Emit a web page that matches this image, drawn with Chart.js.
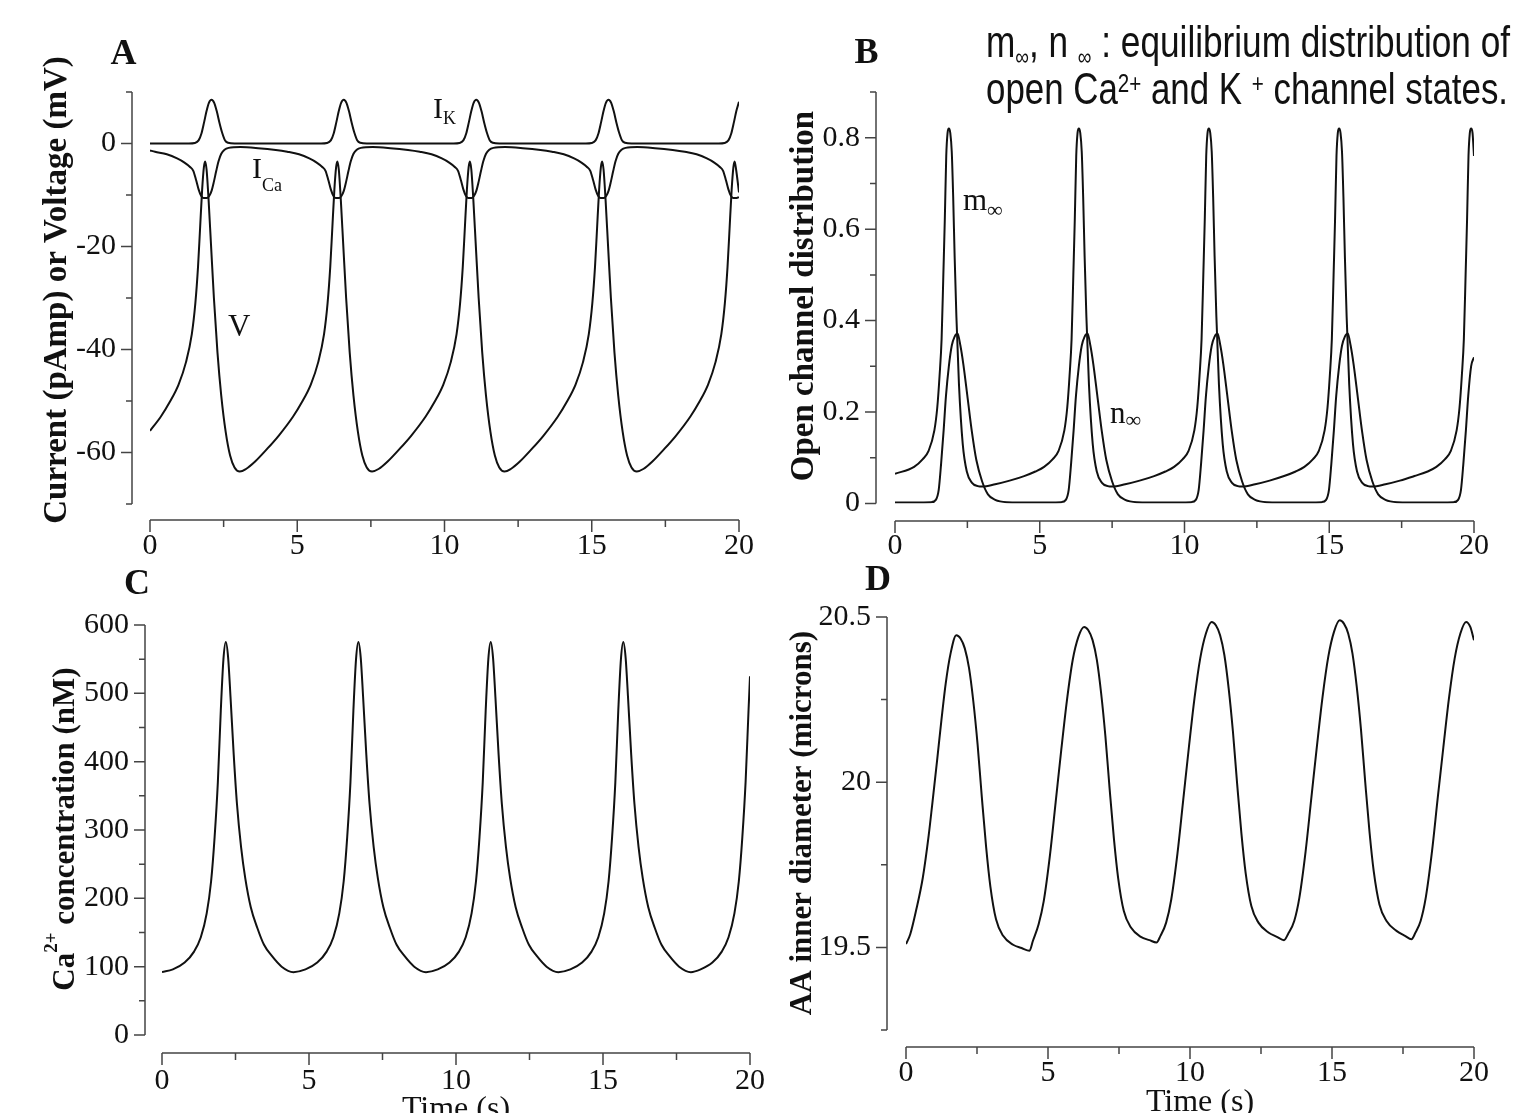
<!DOCTYPE html>
<html>
<head>
<meta charset="utf-8">
<script src="https://cdn.jsdelivr.net/npm/chart.js@4.4.1/dist/chart.umd.min.js"></script>
<style>
  html, body { margin: 0; padding: 0; background: #fff; overflow: hidden; }
  canvas { position: absolute; left: 0; top: 0; }
</style>
</head>
<body>
<canvas id="cvA" width="1514" height="1113"></canvas>
<canvas id="cvB" width="1514" height="1113"></canvas>
<canvas id="cvC" width="1514" height="1113"></canvas>
<canvas id="cvD" width="1514" height="1113"></canvas>
<script>
// ---- data: [time (s), value] ----
var voltage = [[0,-55.8],[0.37,-53.0],[0.67,-50.2],[0.97,-46.8],[1.22,-42.5],[1.42,-37.0],[1.54,-31.0],[1.63,-24.0],[1.70,-16.5],[1.77,-9.0],[1.83,-4.6],[1.87,-3.5],[1.92,-5.0],[1.99,-11.0],[2.07,-19.5],[2.17,-30.0],[2.29,-40.5],[2.42,-49.0],[2.57,-56.0],[2.72,-60.6],[2.87,-62.9],[3.05,-63.7],
  [3.26,-63.2],[3.56,-61.8],[3.96,-59.4],[4.36,-56.8],[4.86,-53.0],[5.16,-50.2],[5.46,-46.8],[5.71,-42.5],[5.91,-37.0],[6.03,-31.0],[6.12,-24.0],[6.19,-16.5],[6.26,-9.0],[6.32,-4.6],[6.36,-3.5],[6.41,-5.0],[6.48,-11.0],[6.56,-19.5],[6.66,-30.0],[6.78,-40.5],[6.91,-49.0],[7.06,-56.0],[7.21,-60.6],[7.36,-62.9],[7.54,-63.7],
  [7.76,-63.2],[8.06,-61.8],[8.46,-59.4],[8.86,-56.8],[9.36,-53.0],[9.66,-50.2],[9.96,-46.8],[10.21,-42.5],[10.41,-37.0],[10.53,-31.0],[10.62,-24.0],[10.69,-16.5],[10.76,-9.0],[10.82,-4.6],[10.86,-3.5],[10.91,-5.0],[10.98,-11.0],[11.06,-19.5],[11.16,-30.0],[11.28,-40.5],[11.41,-49.0],[11.56,-56.0],[11.71,-60.6],[11.86,-62.9],[12.04,-63.7],
  [12.25,-63.2],[12.55,-61.8],[12.95,-59.4],[13.35,-56.8],[13.85,-53.0],[14.15,-50.2],[14.45,-46.8],[14.70,-42.5],[14.90,-37.0],[15.02,-31.0],[15.11,-24.0],[15.18,-16.5],[15.25,-9.0],[15.31,-4.6],[15.35,-3.5],[15.40,-5.0],[15.47,-11.0],[15.55,-19.5],[15.65,-30.0],[15.77,-40.5],[15.90,-49.0],[16.05,-56.0],[16.20,-60.6],[16.35,-62.9],[16.53,-63.7],
  [16.75,-63.2],[17.05,-61.8],[17.45,-59.4],[17.85,-56.8],[18.35,-53.0],[18.65,-50.2],[18.95,-46.8],[19.20,-42.5],[19.40,-37.0],[19.52,-31.0],[19.61,-24.0],[19.68,-16.5],[19.75,-9.0],[19.81,-4.6],[19.85,-3.5],[19.90,-5.0],[20.0,-9.5]];

var iCa = [[0,-1.35],[0.17,-1.6],[0.57,-2.1],[0.92,-2.9],[1.17,-3.7],[1.35,-4.5],[1.47,-5.3],[1.57,-7.2],[1.65,-8.9],[1.74,-10.2],[1.82,-10.6],[1.93,-10.6],[2.01,-10.2],[2.09,-9.2],[2.17,-7.4],[2.25,-5.3],[2.33,-3.4],[2.42,-2.0],[2.53,-1.2],[2.67,-0.85],[3.07,-0.7],[3.67,-0.9],[4.27,-1.25],
  [4.66,-1.6],[5.06,-2.1],[5.41,-2.9],[5.66,-3.7],[5.84,-4.5],[5.96,-5.3],[6.06,-7.2],[6.14,-8.9],[6.23,-10.2],[6.31,-10.6],[6.42,-10.6],[6.50,-10.2],[6.58,-9.2],[6.66,-7.4],[6.74,-5.3],[6.82,-3.4],[6.91,-2.0],[7.02,-1.2],[7.16,-0.85],[7.56,-0.7],[8.16,-0.9],[8.76,-1.25],
  [9.16,-1.6],[9.56,-2.1],[9.91,-2.9],[10.16,-3.7],[10.34,-4.5],[10.46,-5.3],[10.56,-7.2],[10.64,-8.9],[10.73,-10.2],[10.81,-10.6],[10.92,-10.6],[11.00,-10.2],[11.08,-9.2],[11.16,-7.4],[11.24,-5.3],[11.32,-3.4],[11.41,-2.0],[11.52,-1.2],[11.66,-0.85],[12.06,-0.7],[12.66,-0.9],[13.26,-1.25],
  [13.65,-1.6],[14.05,-2.1],[14.40,-2.9],[14.65,-3.7],[14.83,-4.5],[14.95,-5.3],[15.05,-7.2],[15.13,-8.9],[15.22,-10.2],[15.30,-10.6],[15.41,-10.6],[15.49,-10.2],[15.57,-9.2],[15.65,-7.4],[15.73,-5.3],[15.81,-3.4],[15.90,-2.0],[16.01,-1.2],[16.15,-0.85],[16.55,-0.7],[17.15,-0.9],[17.75,-1.25],
  [18.16,-1.6],[18.56,-2.1],[18.91,-2.9],[19.16,-3.7],[19.34,-4.5],[19.46,-5.3],[19.56,-7.2],[19.64,-8.9],[19.73,-10.2],[19.81,-10.6],[19.92,-10.6],[20.0,-10.4]];

var iK = [[0,0],[1.32,0],[1.52,0.1],[1.65,0.6],[1.75,2.0],[1.84,4.2],[1.92,6.3],[2.00,7.9],[2.09,8.5],[2.18,7.9],[2.27,6.2],[2.36,4.0],[2.45,2.1],[2.55,0.6],[2.65,0.15],[2.87,0],
  [5.81,0],[6.01,0.1],[6.14,0.6],[6.24,2.0],[6.33,4.2],[6.41,6.3],[6.49,7.9],[6.58,8.5],[6.67,7.9],[6.76,6.2],[6.85,4.0],[6.94,2.1],[7.04,0.6],[7.14,0.15],[7.36,0],
  [10.31,0],[10.51,0.1],[10.64,0.6],[10.74,2.0],[10.83,4.2],[10.91,6.3],[10.99,7.9],[11.08,8.5],[11.17,7.9],[11.26,6.2],[11.35,4.0],[11.44,2.1],[11.54,0.6],[11.64,0.15],[11.86,0],
  [14.80,0],[15.00,0.1],[15.13,0.6],[15.23,2.0],[15.32,4.2],[15.40,6.3],[15.48,7.9],[15.57,8.5],[15.66,7.9],[15.75,6.2],[15.84,4.0],[15.93,2.1],[16.03,0.6],[16.13,0.15],[16.35,0],
  [19.31,0],[19.51,0.1],[19.64,0.6],[19.74,2.0],[19.83,4.2],[19.91,6.3],[20.0,8.1]];

var mInf = [[0,0.065],[0.66,0.080],[0.96,0.097],[1.16,0.115],[1.36,0.16],[1.46,0.21],[1.54,0.28],[1.61,0.36],[1.67,0.50],[1.72,0.62],[1.77,0.76],[1.815,0.81],[1.86,0.82],[1.91,0.81],[1.96,0.77],[2.01,0.67],[2.06,0.54],[2.12,0.41],[2.21,0.26],[2.34,0.13],[2.48,0.07],[2.66,0.045],[2.86,0.038],[3.01,0.037],[3.46,0.042],[3.96,0.050],[4.46,0.060],
  [4.85,0.070],[5.15,0.080],[5.45,0.097],[5.65,0.115],[5.85,0.16],[5.95,0.21],[6.03,0.28],[6.10,0.36],[6.16,0.50],[6.21,0.62],[6.26,0.76],[6.305,0.81],[6.35,0.82],[6.40,0.81],[6.45,0.77],[6.50,0.67],[6.55,0.54],[6.61,0.41],[6.70,0.26],[6.83,0.13],[6.97,0.07],[7.15,0.045],[7.35,0.038],[7.50,0.037],[7.95,0.042],[8.45,0.050],[8.95,0.060],
  [9.34,0.070],[9.64,0.080],[9.94,0.097],[10.14,0.115],[10.34,0.16],[10.44,0.21],[10.52,0.28],[10.59,0.36],[10.65,0.50],[10.70,0.62],[10.75,0.76],[10.795,0.81],[10.84,0.82],[10.89,0.81],[10.94,0.77],[10.99,0.67],[11.04,0.54],[11.10,0.41],[11.19,0.26],[11.32,0.13],[11.46,0.07],[11.64,0.045],[11.84,0.038],[11.99,0.037],[12.44,0.042],[12.94,0.050],[13.44,0.060],
  [13.84,0.070],[14.14,0.080],[14.44,0.097],[14.64,0.115],[14.84,0.16],[14.94,0.21],[15.02,0.28],[15.09,0.36],[15.15,0.50],[15.20,0.62],[15.25,0.76],[15.295,0.81],[15.34,0.82],[15.39,0.81],[15.44,0.77],[15.49,0.67],[15.54,0.54],[15.60,0.41],[15.69,0.26],[15.82,0.13],[15.96,0.07],[16.14,0.045],[16.34,0.038],[16.49,0.037],[16.94,0.042],[17.44,0.050],[17.94,0.060],
  [18.40,0.070],[18.70,0.080],[19.00,0.097],[19.20,0.115],[19.40,0.16],[19.50,0.21],[19.58,0.28],[19.65,0.36],[19.71,0.50],[19.76,0.62],[19.81,0.76],[19.855,0.81],[19.90,0.82],[19.95,0.81],[20.0,0.76]];

var nInf = [[0,0.002],[1.26,0.003],[1.41,0.008],[1.51,0.03],[1.59,0.085],[1.68,0.16],[1.76,0.235],[1.86,0.30],[1.96,0.345],[2.06,0.365],[2.16,0.372],[2.26,0.345],[2.36,0.305],[2.51,0.23],[2.66,0.155],[2.81,0.095],[3.01,0.048],[3.21,0.02],[3.46,0.008],[3.86,0.003],[4.86,0.002],
  [5.75,0.003],[5.90,0.008],[6.00,0.03],[6.08,0.085],[6.17,0.16],[6.25,0.235],[6.35,0.30],[6.45,0.345],[6.55,0.365],[6.65,0.372],[6.75,0.345],[6.85,0.305],[7.00,0.23],[7.15,0.155],[7.30,0.095],[7.50,0.048],[7.70,0.02],[7.95,0.008],[8.35,0.003],[9.35,0.002],
  [10.24,0.003],[10.39,0.008],[10.49,0.03],[10.57,0.085],[10.66,0.16],[10.74,0.235],[10.84,0.30],[10.94,0.345],[11.04,0.365],[11.14,0.372],[11.24,0.345],[11.34,0.305],[11.49,0.23],[11.64,0.155],[11.79,0.095],[11.99,0.048],[12.19,0.02],[12.44,0.008],[12.84,0.003],[13.84,0.002],
  [14.74,0.003],[14.89,0.008],[14.99,0.03],[15.07,0.085],[15.16,0.16],[15.24,0.235],[15.34,0.30],[15.44,0.345],[15.54,0.365],[15.64,0.372],[15.74,0.345],[15.84,0.305],[15.99,0.23],[16.14,0.155],[16.29,0.095],[16.49,0.048],[16.69,0.02],[16.94,0.008],[17.34,0.003],[18.34,0.002],
  [19.30,0.003],[19.45,0.008],[19.55,0.03],[19.63,0.085],[19.72,0.16],[19.80,0.235],[19.90,0.30],[20.0,0.32]];

var calcium = [[0,92],[0.37,96],[0.77,106],[1.09,122],[1.32,143],[1.52,178],[1.67,225],[1.79,290],[1.90,370],[2.00,475],[2.09,550],[2.17,575],[2.25,552],[2.33,495],[2.44,410],[2.55,338],[2.69,275],[2.83,230],[3.02,187],[3.24,157],[3.47,132],[3.73,116],[4.07,100],[4.47,92],
  [4.88,96],[5.28,106],[5.60,122],[5.83,143],[6.03,178],[6.18,225],[6.30,290],[6.41,370],[6.51,475],[6.60,550],[6.68,575],[6.76,552],[6.84,495],[6.95,410],[7.06,338],[7.20,275],[7.34,230],[7.53,187],[7.75,157],[7.98,132],[8.24,116],[8.58,100],[8.98,92],
  [9.38,96],[9.78,106],[10.10,122],[10.33,143],[10.53,178],[10.68,225],[10.80,290],[10.91,370],[11.01,475],[11.10,550],[11.18,575],[11.26,552],[11.34,495],[11.45,410],[11.56,338],[11.70,275],[11.84,230],[12.03,187],[12.25,157],[12.48,132],[12.74,116],[13.08,100],[13.48,92],
  [13.89,96],[14.29,106],[14.61,122],[14.84,143],[15.04,178],[15.19,225],[15.31,290],[15.42,370],[15.52,475],[15.61,550],[15.69,575],[15.77,552],[15.85,495],[15.96,410],[16.07,338],[16.21,275],[16.35,230],[16.54,187],[16.76,157],[16.99,132],[17.25,116],[17.59,100],[17.99,92],
  [18.32,96],[18.72,106],[19.04,122],[19.27,143],[19.47,178],[19.62,225],[19.74,290],[19.85,370],[19.95,475],[20.0,525]];

var diameter = [[0,19.51],[0.15,19.54],[0.35,19.61],[0.59,19.71],[0.80,19.84],[0.92,19.93],[1.10,20.07],[1.25,20.19],[1.40,20.30],[1.57,20.39],[1.77,20.445],
  [1.92,20.435],[2.07,20.405],[2.22,20.345],[2.37,20.245],[2.52,20.115],[2.67,19.955],[2.82,19.805],[2.97,19.685],[3.17,19.585],[3.42,19.535],[3.77,19.508],[4.07,19.498],[4.35,19.49],
  [4.47,19.52],[4.67,19.57],[4.85,19.64],[5.07,19.78],[5.27,19.94],[5.47,20.10],[5.67,20.25],[5.87,20.37],[6.07,20.44],[6.27,20.47],
  [6.42,20.46],[6.57,20.43],[6.72,20.37],[6.87,20.27],[7.02,20.14],[7.17,19.98],[7.32,19.83],[7.47,19.71],[7.67,19.61],[7.92,19.56],[8.27,19.532],[8.57,19.522],[8.82,19.515],
  [8.96,19.535],[9.16,19.575],[9.34,19.645],[9.56,19.785],[9.76,19.945],[9.96,20.105],[10.16,20.255],[10.36,20.375],[10.56,20.45],[10.76,20.485],
  [10.91,20.475],[11.06,20.445],[11.21,20.385],[11.36,20.285],[11.51,20.155],[11.66,19.995],[11.81,19.845],[11.96,19.725],[12.16,19.625],[12.41,19.575],[12.76,19.545],[13.06,19.532],[13.31,19.522],
  [13.45,19.54],[13.67,19.58],[13.85,19.65],[14.07,19.79],[14.27,19.95],[14.47,20.11],[14.67,20.26],[14.87,20.38],[15.07,20.455],[15.27,20.49],
  [15.42,20.48],[15.57,20.45],[15.72,20.39],[15.87,20.29],[16.02,20.16],[16.17,20.00],[16.32,19.85],[16.47,19.73],[16.67,19.63],[16.92,19.58],[17.27,19.55],[17.57,19.535],[17.80,19.525],
  [17.94,19.545],[18.12,19.58],[18.30,19.65],[18.52,19.79],[18.72,19.95],[18.92,20.105],[19.12,20.255],[19.32,20.375],[19.52,20.45],[19.72,20.485],[19.87,20.47],[20.0,20.43]];

var timeRange = [0, 20];
var timeStep = 2.5;
var yRangeA = [-70, 10], yStepA = 10;
var yRangeB = [0, 0.9], yStepB = 0.1;
var yRangeC = [0, 600], yStepC = 50;
var yRangeD = [19.25, 20.5], yStepD = 0.25;

var SERIF = "'Liberation Serif', 'DejaVu Serif', serif";
var SANS = "'Liberation Sans Narrow', 'Liberation Sans', Arial, sans-serif";
var INK = '#111';
var W = 1514, H = 1113;

// draws a run of text pieces: [text, size factor, baseline shift]
function richText(ctx, parts, x, y, o) {
  var weight = o.weight || 'normal', total = 0;
  var widths = parts.map(function (p) {
    ctx.font = weight + ' ' + Math.round(o.size * p[1]) + 'px ' + o.family;
    var w = ctx.measureText(p[0]).width;
    total += w;
    return w;
  });
  ctx.save();
  ctx.translate(x, y);
  if (o.rotate) ctx.rotate(o.rotate);
  if (o.fit) ctx.scale(o.fit / total, 1);
  ctx.fillStyle = INK;
  ctx.textAlign = 'left';
  ctx.textBaseline = o.baseline || 'alphabetic';
  var cx = o.align === 'center' ? -total / 2 : 0;
  parts.forEach(function (p, i) {
    ctx.font = weight + ' ' + Math.round(o.size * p[1]) + 'px ' + o.family;
    ctx.fillText(p[0], cx, p[2]);
    cx += widths[i];
  });
  ctx.restore();
}

function xMajor(v) { return Math.round(v / timeStep) % 2 === 0; }

function framePlugin(p) {
  return {
    id: 'frame' + p.name,
    afterDraw: function (chart) {
      var ctx = chart.ctx, xs = chart.scales.x, ys = chart.scales.y;
      ctx.save();
      ctx.strokeStyle = '#444';
      ctx.lineWidth = 1.5;
      ctx.beginPath();
      ctx.moveTo(p.yAxisX, ys.getPixelForValue(ys.min));
      ctx.lineTo(p.yAxisX, ys.getPixelForValue(ys.max));
      ys.ticks.forEach(function (t) {
        var y = ys.getPixelForValue(t.value);
        var len = p.yMajor(t.value) ? 11 : 6;
        ctx.moveTo(p.yAxisX - len, y);
        ctx.lineTo(p.yAxisX, y);
      });
      ctx.moveTo(xs.getPixelForValue(xs.min), p.xAxisY);
      ctx.lineTo(xs.getPixelForValue(xs.max), p.xAxisY);
      xs.ticks.forEach(function (t) {
        var x = xs.getPixelForValue(t.value);
        var len = xMajor(t.value) ? 12 : 7;
        ctx.moveTo(x, p.xAxisY);
        ctx.lineTo(x, p.xAxisY + len);
      });
      ctx.stroke();
      ctx.restore();

      richText(ctx, [[p.letter[0], 1, 0]], p.letter[1], p.letter[2], {size: 36, family: SERIF, weight: 'bold', align: 'center'});
      richText(ctx, p.title.parts, p.title.x, p.title.y, {size: p.title.size, family: SERIF, weight: 'bold', align: 'center', baseline: 'middle', rotate: -Math.PI / 2});
      if (p.xTitle) richText(ctx, [['Time (s)', 1, 0]], p.xTitle[0], p.xTitle[1], {size: 32, family: SERIF, align: 'center', baseline: 'middle'});
      (p.notes || []).forEach(function (n) {
        richText(ctx, n.parts, n.x, n.y, {size: n.size, family: n.family || SERIF, fit: n.fit});
      });
    }
  };
}

function makeChart(id, p, datasets) {
  var tickFont = {family: SERIF, size: 30};
  return new Chart(document.getElementById(id), {
    type: 'line',
    data: {
      datasets: datasets.map(function (d) {
        return {
          data: d.map(function (pt) { return {x: pt[0], y: pt[1]}; }),
          borderColor: INK, borderWidth: 2, pointRadius: 0,
          cubicInterpolationMode: 'monotone', fill: false
        };
      })
    },
    options: {
      responsive: false, animation: false, devicePixelRatio: 1,
      layout: {padding: {left: 0, right: W - p.R, top: p.T, bottom: 0}},
      plugins: {legend: {display: false}, tooltip: {enabled: false}},
      scales: {
        x: {
          type: 'linear', min: timeRange[0], max: timeRange[1],
          afterFit: function (s) { s.height = H - p.B; },
          grid: {display: false, drawTicks: false}, border: {display: false},
          ticks: {stepSize: timeStep, autoSkip: false, maxRotation: 0, padding: p.xPad, font: tickFont, color: INK,
            callback: function (v) { return xMajor(v) ? String(Math.round(v)) : ''; }}
        },
        y: {
          type: 'linear', min: p.yRange[0], max: p.yRange[1],
          afterFit: function (s) { s.width = p.L; },
          grid: {display: false, drawTicks: false}, border: {display: false},
          ticks: {stepSize: p.yStep, autoSkip: false, padding: p.yPad, font: tickFont, color: INK,
            callback: function (v) { return p.yMajor(v) ? String(Math.round(v * 100) / 100) : ''; }}
        }
      }
    },
    plugins: [framePlugin(p)]
  });
}

var panelA = {
  name: 'A', L: 150, R: 739, T: 92, B: 504, yAxisX: 132, xAxisY: 520,
  yRange: yRangeA, yStep: yStepA, yPad: 34, xPad: 24,
  yMajor: function (v) { return Math.round(v) % 20 === 0; },
  letter: ['A', 123.5, 64],
  title: {parts: [['Current (pAmp) or Voltage (mV)', 1, 0]], x: 57, y: 290, size: 32.5},
  notes: [
    {parts: [['I', 1, 0], ['K', 0.6, 6]], x: 433, y: 118, size: 30},
    {parts: [['I', 1, 0], ['Ca', 0.6, 13]], x: 252, y: 178, size: 30},
    {parts: [['V', 1, 0]], x: 228, y: 336, size: 31}
  ]
};

var panelB = {
  name: 'B', L: 895, R: 1483, T: 92, B: 503.5, yAxisX: 876, xAxisY: 521,
  yRange: yRangeB, yStep: yStepB, yPad: 35, xPad: 25,
  yMajor: function (v) { return Math.round(v * 10) % 2 === 0; },
  letter: ['B', 866.5, 62.5],
  title: {parts: [['Open channel distribution', 1, 0]], x: 804, y: 296, size: 32.5},
  notes: [
    {parts: [['m', 1, 0], ['\u221e', 0.72, 7]], x: 963, y: 210, size: 31},
    {parts: [['n', 1, 0], ['\u221e', 0.72, 4]], x: 1110, y: 423, size: 31},
    {parts: [['m', 1, 0], ['\u221e', 0.55, 8], [', n ', 1, 0], ['\u221e', 0.55, 8], [' : equilibrium distribution of', 1, 0]],
      x: 986, y: 57, size: 44, family: SANS, fit: 524},
    {parts: [['open Ca', 1, 0], ['2+', 0.6, -12], [' and K ', 1, 0], ['+', 0.6, -12], [' channel states.', 1, 0]],
      x: 986, y: 104, size: 44, family: SANS, fit: 522}
  ]
};

var panelC = {
  name: 'C', L: 162, R: 750, T: 625, B: 1035, yAxisX: 145, xAxisY: 1053,
  yRange: yRangeC, yStep: yStepC, yPad: 33, xPad: 28,
  yMajor: function (v) { return Math.round(v) % 100 === 0; },
  letter: ['C', 137, 593.5],
  title: {parts: [['Ca', 1, 0], ['2+', 0.62, -14], [' concentration (nM)', 1, 0]], x: 66, y: 829, size: 31},
  xTitle: [456, 1110]
};

var panelD = {
  name: 'D', L: 906, R: 1494, T: 617, B: 1030, yAxisX: 887, xAxisY: 1047,
  yRange: yRangeD, yStep: yStepD, yPad: 35, xPad: 25,
  yMajor: function (v) { return Math.round(v * 4) % 2 === 0; },
  letter: ['D', 878, 590],
  title: {parts: [['AA inner diameter (microns)', 1, 0]], x: 803, y: 823, size: 31},
  xTitle: [1200, 1103]
};

makeChart('cvA', panelA, [voltage, iCa, iK]);
makeChart('cvB', panelB, [mInf, nInf]);
makeChart('cvC', panelC, [calcium]);
makeChart('cvD', panelD, [diameter]);
</script>
</body>
</html>
